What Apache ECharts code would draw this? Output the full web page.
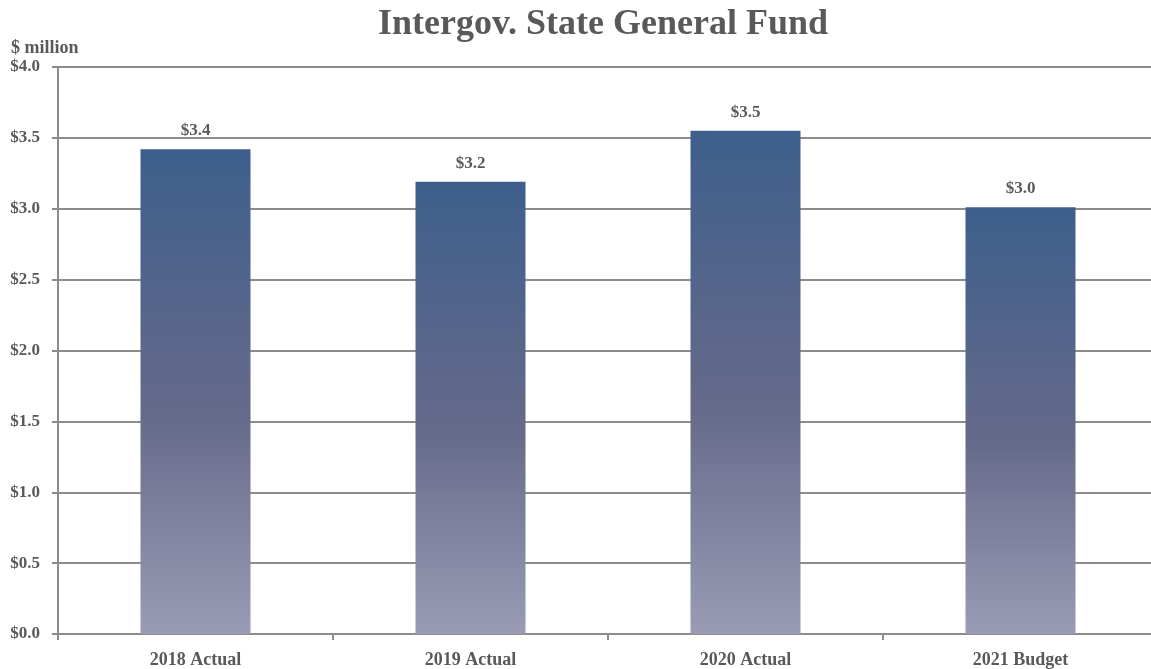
<!DOCTYPE html>
<html>
<head>
<meta charset="utf-8">
<script src="https://cdn.jsdelivr.net/npm/echarts@6/dist/echarts.min.js"></script>
<style>
  html, body { margin: 0; padding: 0; background: #fff; overflow: hidden; }
  #chart { width: 1158px; height: 669px; }
</style>
</head>
<body>
<div id="chart"></div>
<script>
// Intergovernmental revenue from the State General Fund, $ million
const categories = ['2018 Actual', '2019 Actual', '2020 Actual', '2021 Budget'];
const values = [3.42, 3.19, 3.55, 3.01];
const yTicks = { min: 0, max: 4, interval: 0.5 };

const serif = '"Liberation Serif", "DejaVu Serif", serif';
const textGray = '#595959';
const lineGray = '#8c8c8c';

const chart = echarts.init(document.getElementById('chart'), null, { renderer: 'canvas' });

chart.setOption({
  animation: false,
  backgroundColor: '#ffffff',
  title: [
    {
      text: 'Intergov. State General Fund',
      left: 373,
      top: 2,
      textStyle: { fontFamily: serif, fontWeight: 'bold', fontSize: 36, color: textGray }
    },
    {
      text: '$ million',
      left: 6,
      top: 34,
      textStyle: { fontFamily: serif, fontWeight: 'bold', fontSize: 18, color: textGray }
    }
  ],
  grid: { left: 58, top: 67, right: 0, height: 567 },
  xAxis: {
    type: 'category',
    data: categories,
    axisLine: { lineStyle: { color: lineGray, width: 2 } },
    axisTick: { show: true, length: 6, lineStyle: { color: lineGray, width: 2 } },
    axisLabel: { margin: 17, fontFamily: serif, fontWeight: 'bold', fontSize: 18, color: textGray }
  },
  yAxis: {
    type: 'value',
    min: yTicks.min,
    max: yTicks.max,
    interval: yTicks.interval,
    axisLine: { show: true, lineStyle: { color: lineGray, width: 2 } },
    axisTick: { show: true, length: 6, lineStyle: { color: lineGray, width: 2 } },
    splitLine: { show: true, lineStyle: { color: lineGray, width: 2 } },
    axisLabel: {
      margin: 18,
      fontFamily: serif,
      fontWeight: 'bold',
      fontSize: 17,
      color: textGray,
      formatter: v => '$' + v.toFixed(1)
    }
  },
  series: [{
    type: 'bar',
    data: values,
    barWidth: '40%',
    itemStyle: {
      color: new echarts.graphic.LinearGradient(0, 0, 0, 1, [
        { offset: 0, color: '#3d5f8c' },
        { offset: 0.55, color: '#666a8a' },
        { offset: 1, color: '#9a9cb5' }
      ])
    },
    label: {
      show: true,
      position: 'top',
      distance: 10,
      fontFamily: serif,
      fontWeight: 'bold',
      fontSize: 17,
      color: textGray,
      formatter: p => '$' + p.value.toFixed(1)
    }
  }]
});
</script>
</body>
</html>
